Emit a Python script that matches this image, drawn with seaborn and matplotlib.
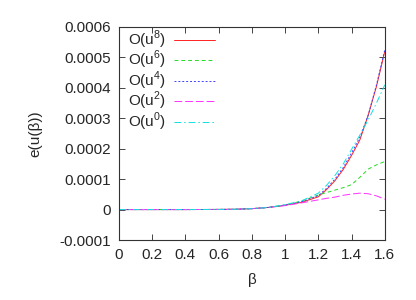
import matplotlib
matplotlib.use("Agg")
import matplotlib.pyplot as plt
import seaborn as sns

beta = [0.0, 0.2, 0.4, 0.6, 0.7, 0.8, 0.9, 1.0, 1.1, 1.2, 1.25, 1.3, 1.35, 1.4, 1.45, 1.5, 1.55, 1.6]

e_u8 = [0, 0, 0, 0.0000005, 0.000001, 0.000003, 0.000007, 0.000014, 0.000024, 0.000042,
        0.000066, 0.000095, 0.000132, 0.000178, 0.000229, 0.00031, 0.000405, 0.00052]
e_u6 = [0, 0, 0, 0.0000005, 0.000001, 0.000003, 0.000007, 0.000015, 0.000028, 0.000048,
        0.000056, 0.000064, 0.000072, 0.000082, 0.000106, 0.000133, 0.000147, 0.000158]
e_u4 = [0, 0, 0, 0.0000005, 0.000001, 0.000003, 0.000007, 0.000015, 0.000026, 0.000046,
        0.00007, 0.0001, 0.000138, 0.000186, 0.000238, 0.00031, 0.00041, 0.000525]
e_u2 = [0, 0, 0, 0.0000005, 0.000001, 0.000003, 0.000007, 0.000013, 0.000022, 0.000032,
        0.000037, 0.000041, 0.000047, 0.000051, 0.000054, 0.000052, 0.000045, 0.000034]
e_u0 = [0, 0, 0, 0.0000005, 0.000001, 0.000003, 0.000007, 0.000016, 0.000029, 0.000054,
        0.00008, 0.000112, 0.00015, 0.000198, 0.000245, 0.000295, 0.00035, 0.00041]

labels = ["O(u$^8$)", "O(u$^6$)", "O(u$^4$)", "O(u$^2$)", "O(u$^0$)"]
series = [e_u8, e_u6, e_u4, e_u2, e_u0]
colors = ["#ff2020", "#20dd20", "#4040ff", "#ff30ff", "#10e0e0"]
styles = ["-", (0, (4, 3)), (0, (2, 2)), (0, (8, 3)), (0, (7, 3, 1.5, 3))]

sns.set_style("ticks")
plt.rcParams['font.family'] = ['Liberation Sans', 'DejaVu Sans']
plt.rcParams['mathtext.fontset'] = 'custom'
plt.rcParams['mathtext.rm'] = 'Liberation Sans'

fig = plt.figure(figsize=(4.16, 3.0), dpi=100)
ax = fig.add_axes([0.286, 0.2, 0.639, 0.71])

for vals, lab, c, ls in zip(series, labels, colors, styles):
    sns.lineplot(x=beta, y=vals, ax=ax, color=c, linestyle=ls, lw=0.7, label=lab)

ax.set_xlim(0, 1.6)
ax.set_ylim(-0.0001, 0.0006)
ax.set_xticks([0, 0.2, 0.4, 0.6, 0.8, 1, 1.2, 1.4, 1.6])
ax.set_xticklabels(["0", "0.2", "0.4", "0.6", "0.8", "1", "1.2", "1.4", "1.6"])
ax.set_yticks([-0.0001, 0, 0.0001, 0.0002, 0.0003, 0.0004, 0.0005, 0.0006])
ax.set_yticklabels(["-0.0001", "0", "0.0001", "0.0002", "0.0003", "0.0004", "0.0005", "0.0006"])
ax.tick_params(direction="in", length=4, width=0.6, labelsize=11, top=True, right=True, pad=6)
for s in ax.spines.values():
    s.set_linewidth(0.8)
    s.set_color("#333333")

ax.set_xlabel("β", fontsize=11, labelpad=8)
ax.set_ylabel("e(u(β))", fontsize=11, labelpad=12)

leg = ax.legend(loc="upper left", bbox_to_anchor=(0.0, 1.035), frameon=False, markerfirst=False,
                fontsize=11, handlelength=2.7, handletextpad=0.5, labelspacing=-0.12,
                borderaxespad=0.2)
for h, c in zip(leg.get_lines(), colors):
    h.set_color(c)

fig.savefig("out.png", dpi=100)
